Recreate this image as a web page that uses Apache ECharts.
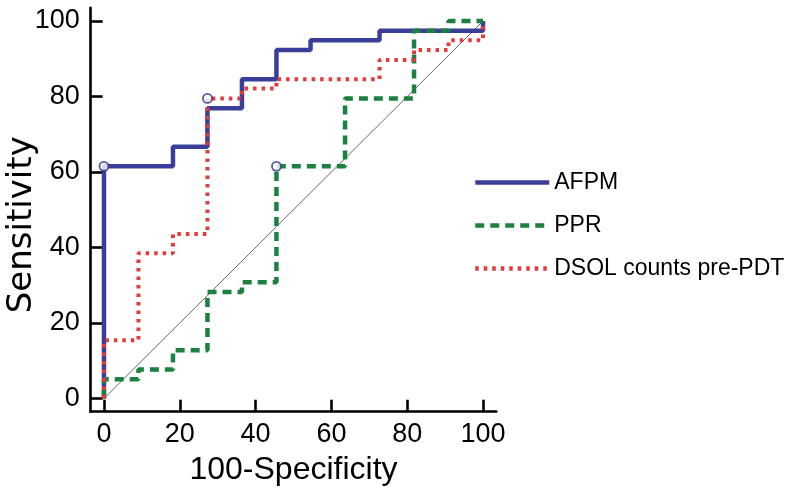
<!DOCTYPE html>
<html>
<head>
<meta charset="utf-8">
<script src="https://cdn.jsdelivr.net/npm/echarts@6/dist/echarts.min.js"></script>
<style>html,body{margin:0;padding:0;background:#fff}#c{width:800px;height:496px}</style>
</head>
<body>
<div id="c"></div>
<script>
// ROC curve vertices (x = 100-Specificity, y = Sensitivity)
const afpm = [[0,0],[0,61.5],[18.2,66.7],[27.3,76.9],[36.4,84.6],[45.5,92.3],[54.5,94.9],[72.7,97.4],[100,100]];
const ppr = [[0,0],[0,5.1],[9.1,7.7],[18.2,12.8],[27.3,28.2],[36.4,30.8],[45.5,61.5],[63.6,79.5],[81.8,97.4],[90.9,100],[100,100]];
const dsol = [[0,0],[0,15.4],[9.1,38.5],[18.2,43.6],[27.3,79.5],[36.4,82.1],[45.5,84.6],[72.7,89.7],[81.8,92.3],[90.9,94.9],[100,100]];
const cutoffs = [[0,61.5],[27.3,79.5],[45.5,61.5]];
const diagonal = [[0,0],[100,100]];
const ticks = [0,20,40,60,80,100];
const names = ['AFPM','PPR','DSOL counts pre-PDT'];

const font = "'Liberation Sans', Arial, Helvetica, sans-serif";
const chart = echarts.init(document.getElementById('c'), null, {renderer:'canvas'});
const axisCommon = {
  type:'value', min:-3.5, max:103.5,
  splitLine:{show:false},
  nameMoveOverlap:false,
  axisLine:{show:true, onZero:false, lineStyle:{color:'#000', width:2.6}},
  axisTick:{show:true, inside:true, length:12, customValues:ticks, lineStyle:{color:'#000', width:2.6}},
  axisLabel:{customValues:ticks, color:'#000', fontSize:27, fontFamily:font}
};
chart.setOption({
  animation:false,
  grid:{left:90.7, right:303.7, top:7.8, bottom:84.3, containLabel:false, outerBoundsMode:'none'},
  xAxis:Object.assign({}, axisCommon, {
    name:'100-Specificity', nameLocation:'middle', nameGap:42,
    nameTextStyle:{color:'#000', fontSize:32, fontFamily:font},
    axisLabel:Object.assign({}, axisCommon.axisLabel, {margin:9})
  }),
  yAxis:Object.assign({}, axisCommon, {
    name:'Sensitivity', nameLocation:'middle', nameGap:52,
    nameTextStyle:{color:'#000', fontSize:34, fontFamily:"'DejaVu Sans', sans-serif", padding:[0,30,0,0]},
    axisLabel:Object.assign({}, axisCommon.axisLabel, {margin:11})
  }),
  legend:{
    data:names, orient:'vertical', left:468, top:166,
    itemWidth:74, itemHeight:14, itemGap:20, itemTextGap:13,
    itemStyle:{opacity:0},
    lineStyle:{width:4.5},
    textStyle:{color:'#000', fontSize:23, fontFamily:font}
  },
  series:[
    {type:'line', name:'diag', data:diagonal, symbol:'none', silent:true,
     lineStyle:{color:'#666', width:1}, z:1},
    {type:'line', name:names[0], data:afpm, step:'end', symbol:'none',
     lineStyle:{color:'#3a3e98', width:4.5}, itemStyle:{color:'#3a3e98'}, z:2},
    {type:'line', name:names[1], data:ppr, step:'end', symbol:'none',
     lineStyle:{color:'#1b8040', width:4.5, type:[9,6]}, itemStyle:{color:'#1b8040'}, z:3},
    {type:'line', name:names[2], data:dsol, step:'end', symbol:'none',
     lineStyle:{color:'#e23b3b', width:4, type:[3.5,5]}, itemStyle:{color:'#e23b3b'}, z:4},
    {type:'scatter', name:'cut', data:cutoffs, symbol:'circle', symbolSize:9,
     itemStyle:{color:'#fff', borderColor:'#2c3580', borderWidth:1.8}, z:5}
  ]
});
</script>
</body>
</html>
